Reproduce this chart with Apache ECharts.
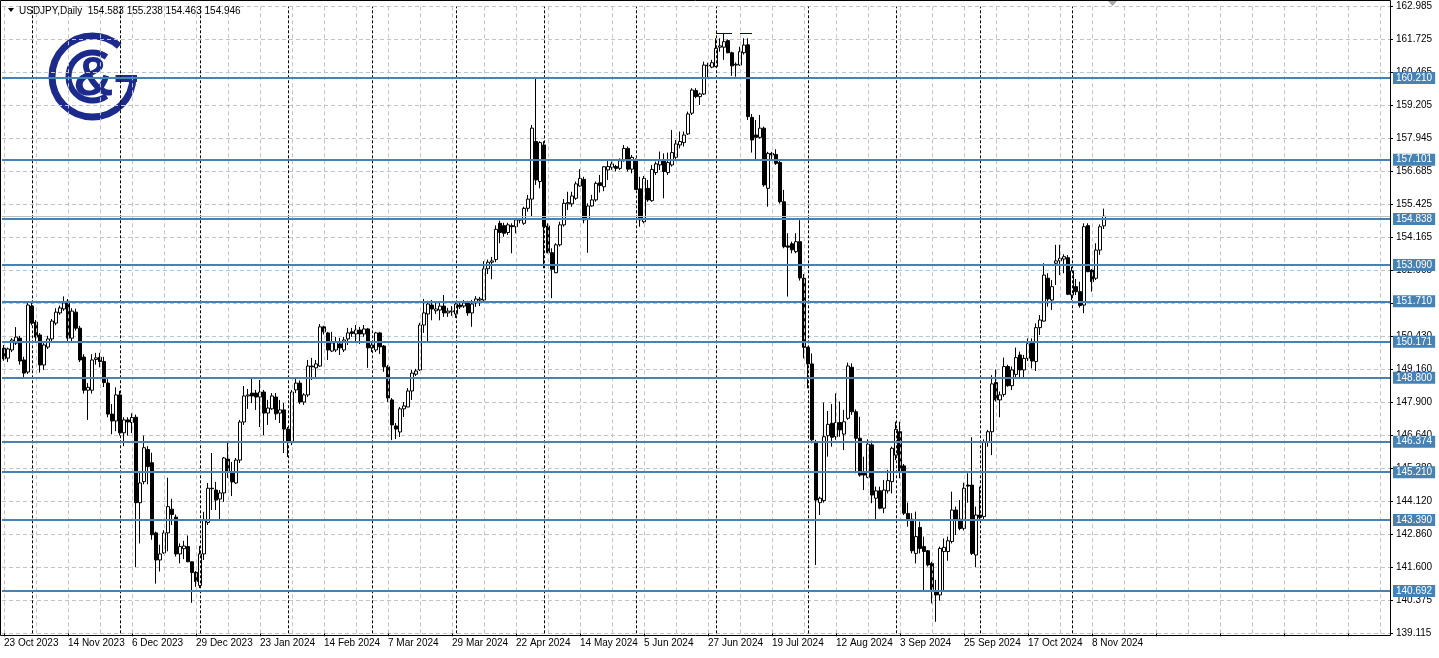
<!DOCTYPE html>
<html><head><meta charset="utf-8">
<script src="https://cdn.jsdelivr.net/npm/echarts@6.0.0/dist/echarts.min.js"></script>
<style>html,body{margin:0;padding:0;background:#fff;overflow:hidden}#c{width:1439px;height:658px}</style>
</head><body><div id="c"></div>
<script>
// ---------- DATA ----------
const symbolName = 'USDJPY,Daily';
const startDate = '2023-10-23';
const holidays = ['2023-12-25', '2024-01-01'];
const totalSlots = 347;

const opens = [149.93,149.55,149.86,150.12,150.31,149.48,149.02,151.53,150.92,150.43,149.29,149.97,150.28,150.88,151.27,151.42,151.72,150.31,151.30,150.69,149.59,148.33,148.33,149.50,149.58,149.42,148.60,147.42,147.16,148.15,146.71,147.20,147.10,147.30,144.05,144.85,146.07,145.57,142.90,141.87,142.14,142.90,143.80,143.50,142.10,142.30,142.38,141.80,141.40,140.90,142.10,143.30,144.60,144.53,144.19,144.42,145.71,145.22,144.80,145.67,147.12,148.11,148.22,148.22,148.07,148.26,147.46,147.62,148.07,147.46,147.58,146.85,146.36,148.34,148.60,147.88,148.15,149.25,149.18,149.25,150.74,150.51,149.82,149.86,150.09,149.86,150.28,150.55,150.47,150.62,150.47,150.66,149.94,149.86,150.51,150.01,149.22,147.96,146.97,146.74,147.62,147.69,148.30,148.94,149.10,150.81,151.23,151.57,151.35,151.38,151.53,151.27,151.31,151.23,151.57,151.53,151.65,151.27,151.65,151.76,151.76,152.95,153.20,153.30,154.68,154.59,154.33,154.59,154.55,154.80,154.68,155.25,155.60,157.79,156.27,157.66,154.58,153.56,152.80,153.86,154.62,155.42,155.42,155.63,156.10,156.35,154.84,155.34,155.57,156.22,156.07,156.71,156.81,156.84,156.77,157.06,157.53,156.74,157.09,155.99,154.74,156.01,155.54,156.61,156.90,157.06,156.61,156.90,157.19,157.66,157.75,158.08,158.87,159.73,159.50,159.60,160.70,160.62,160.64,161.38,161.38,161.63,161.17,160.70,160.70,161.17,161.47,158.71,158.04,157.95,158.30,156.01,157.34,157.30,156.99,155.50,153.82,153.90,153.60,153.98,152.59,149.96,149.33,146.37,144.05,144.13,146.60,147.07,146.56,147.10,146.66,147.26,149.20,147.51,146.50,145.19,145.01,146.25,144.22,144.50,143.84,144.50,144.85,145.86,146.75,145.45,143.64,143.42,142.12,143.11,142.38,142.22,141.74,140.70,140.54,142.19,142.19,142.57,143.77,143.42,143.07,144.72,144.72,142.06,143.58,143.52,146.37,146.75,148.62,147.96,148.17,149.23,148.50,148.93,149.67,149.10,149.54,150.18,149.42,150.71,150.96,152.59,151.76,153.16,153.25,153.32,153.37,151.95,152.27,152.08,151.57,154.59,152.90,152.59,153.66,154.583];
const highs = [150.05,149.95,150.31,150.73,150.40,149.60,151.65,151.72,151.00,150.50,150.20,150.40,151.04,151.45,151.55,151.90,151.80,151.45,151.43,150.78,149.70,148.60,149.70,149.75,149.75,149.60,148.75,147.80,148.44,148.30,147.30,147.30,147.45,147.40,145.20,146.60,146.20,145.95,142.95,142.45,143.00,145.00,144.20,143.60,142.50,142.60,142.80,141.80,141.45,142.40,143.70,144.80,145.94,144.84,144.53,145.79,146.36,145.60,145.75,147.20,148.49,148.38,148.79,148.34,148.72,148.34,147.96,148.22,148.22,147.96,147.84,146.93,148.34,148.83,148.70,148.22,149.48,149.56,149.48,150.85,150.78,150.55,150.55,150.36,150.32,150.36,150.70,150.70,150.81,150.74,150.81,150.70,150.17,150.55,150.55,150.05,149.29,148.03,147.08,147.69,147.88,148.41,149.10,149.14,150.89,151.80,151.73,151.76,151.65,151.65,151.95,151.46,151.53,151.65,151.65,151.76,151.73,151.76,151.91,151.88,153.24,153.30,153.40,154.60,154.78,154.70,154.70,154.68,154.87,154.85,155.31,155.76,158.42,160.20,157.80,157.80,154.68,153.73,153.92,154.74,155.60,155.88,155.88,156.27,156.74,156.45,155.44,155.76,156.27,156.52,156.86,157.12,157.03,156.90,157.15,157.66,157.60,157.28,157.15,156.45,156.48,156.33,156.90,157.03,157.41,157.34,157.37,158.23,157.85,158.17,158.17,158.93,159.82,159.82,159.65,160.83,160.79,160.90,161.72,161.72,161.91,161.68,161.21,160.80,161.40,161.72,161.72,158.84,158.61,158.80,158.36,157.40,157.40,157.50,157.09,155.95,154.30,153.98,154.30,154.80,152.75,149.99,149.73,146.44,144.28,147.86,147.54,147.80,148.21,147.90,147.58,149.38,149.35,147.60,147.32,145.80,146.46,146.41,144.66,144.66,144.91,145.30,146.18,147.13,147.13,145.52,144.05,143.65,143.71,143.33,142.76,142.25,141.80,141.11,142.38,142.69,142.76,144.47,143.90,144.15,144.81,145.17,146.54,143.90,144.66,146.46,146.82,148.90,149.12,148.28,149.57,149.30,149.23,149.95,149.80,149.67,150.30,150.30,150.87,151.19,153.16,152.78,152.52,153.86,153.86,153.50,153.47,153.03,152.56,152.46,154.68,154.68,152.94,153.92,154.64,155.238];
const lows = [149.45,149.40,149.78,150.05,149.30,148.80,148.95,150.80,150.20,149.00,149.10,149.90,150.20,150.80,151.20,151.35,150.15,150.20,150.60,149.40,148.20,147.20,148.20,149.30,149.20,148.45,147.30,146.65,146.77,146.60,146.20,146.60,146.70,141.60,142.50,144.75,144.75,142.64,140.97,141.43,142.10,142.20,143.20,142.00,141.74,141.90,141.80,140.24,140.85,140.80,141.87,143.20,143.77,143.77,143.39,144.08,144.99,144.30,144.76,145.56,147.01,147.62,147.84,147.58,146.93,146.62,147.01,147.58,147.20,147.08,145.94,145.79,146.24,148.22,147.80,147.77,148.07,148.72,148.83,149.22,150.45,149.48,149.78,149.78,149.67,149.78,150.05,150.36,150.17,150.09,150.36,149.18,149.78,149.78,149.71,149.03,147.88,146.43,146.47,146.55,147.31,147.69,147.96,148.87,149.06,150.51,150.20,150.99,151.23,150.99,151.12,151.12,151.16,151.08,151.42,151.46,151.16,150.74,151.50,151.53,151.70,152.75,152.55,153.20,153.92,154.17,154.24,153.54,154.30,154.68,154.62,155.12,154.93,156.14,156.01,152.97,153.54,151.83,152.78,153.80,154.55,155.19,155.31,155.57,156.07,154.68,153.56,155.31,155.50,155.85,155.90,156.33,156.71,156.65,156.71,157.03,156.65,156.58,155.95,154.55,154.68,155.50,155.50,156.52,156.71,155.63,156.52,156.84,157.12,157.53,157.60,158.04,158.80,159.44,159.18,159.56,160.20,160.58,160.62,161.21,160.90,161.15,160.29,160.26,160.67,161.10,158.61,157.37,157.11,157.90,156.07,155.31,157.09,156.90,155.43,153.73,151.89,153.54,153.54,152.50,149.54,148.40,146.31,141.68,143.58,144.05,145.80,146.18,146.44,146.56,146.05,147.20,147.39,145.17,145.04,144.53,144.98,144.03,143.39,143.80,143.65,144.40,144.40,145.67,144.98,143.58,143.14,142.12,141.74,142.12,140.67,141.62,140.22,139.52,140.32,140.66,141.84,142.50,142.82,143.00,142.99,144.05,142.06,141.60,143.39,143.39,146.18,145.86,147.90,147.30,148.08,148.46,148.34,148.81,148.81,148.81,149.44,149.16,149.06,150.43,150.94,151.51,151.38,152.33,152.71,152.78,151.95,151.76,151.95,151.47,151.26,152.82,152.08,152.52,153.48,154.463];
const closes = [149.52,149.90,150.24,150.35,149.44,148.98,151.57,150.88,150.35,149.29,150.05,150.28,150.96,151.30,151.46,151.65,150.31,151.34,150.69,149.48,148.33,148.44,149.48,149.56,149.42,148.62,147.42,147.16,148.15,146.71,147.20,147.12,147.29,144.05,144.80,146.14,145.42,142.83,141.87,142.10,142.90,143.90,143.60,142.10,142.38,142.40,141.80,141.39,141.05,142.10,143.37,144.60,144.58,144.15,144.42,145.75,145.22,144.84,145.67,147.12,148.11,148.15,148.11,148.07,148.26,147.46,147.65,148.11,147.43,147.58,146.85,146.36,148.26,148.60,147.88,148.15,149.25,149.22,149.33,150.74,150.55,149.86,150.13,150.17,149.94,150.24,150.51,150.49,150.62,150.47,150.66,149.94,150.05,150.51,149.98,149.22,148.03,147.01,146.85,147.62,147.73,148.30,148.98,149.06,150.81,151.27,151.61,151.42,151.42,151.53,151.27,151.34,151.35,151.61,151.50,151.65,151.27,151.61,151.80,151.80,152.95,153.20,153.25,154.45,154.33,154.30,154.62,154.55,154.81,154.82,155.25,155.60,158.30,156.33,157.75,154.55,153.56,152.93,153.86,154.62,155.44,155.47,155.72,156.18,156.39,154.81,155.34,155.57,156.20,156.12,156.83,156.84,156.94,156.77,157.06,157.53,156.74,157.19,155.97,154.81,156.39,155.57,156.73,156.94,157.06,156.65,156.99,157.37,157.70,157.79,158.04,158.84,159.75,159.50,159.60,160.70,160.67,160.79,161.34,161.43,161.59,161.17,160.67,160.73,161.21,161.46,158.74,157.85,157.95,158.30,156.14,157.34,157.28,156.96,155.50,153.79,153.77,153.67,153.98,152.60,149.96,149.33,146.44,144.15,144.22,146.56,147.03,146.54,147.10,146.82,147.13,149.25,147.51,146.50,145.10,145.10,146.28,144.34,144.50,143.84,144.53,144.89,146.12,146.84,145.25,143.65,143.39,142.22,142.76,142.31,142.19,141.68,140.75,140.54,142.31,142.35,142.60,143.77,143.39,143.07,144.60,144.68,142.12,143.58,143.49,146.37,146.75,148.57,147.96,148.15,149.23,148.50,149.10,149.57,149.10,149.54,150.10,149.44,150.71,151.00,152.71,151.80,152.27,153.25,153.35,153.41,151.98,152.87,152.08,151.55,154.55,152.84,152.46,153.66,154.55,154.946];

const levels = [160.210, 157.101, 154.838, 153.090, 151.710, 150.171, 148.800, 146.374, 145.210, 143.390, 140.692];
const bidPrice = 154.946;
const topMarks = [[178, 182, 161.91], [184, 187, 161.91]];
const priceTickLabels = ['162.985','161.725','160.465','159.205','157.945','156.685','155.425','154.165','152.905','151.645','150.430','149.160','147.900','146.640','145.380','144.120','142.860','141.600','140.375','139.115'];
const priceMin = 139.08, priceMax = 162.925, priceStep = 1.255;
const monthNames = ['Jan','Feb','Mar','Apr','May','Jun','Jul','Aug','Sep','Oct','Nov','Dec'];

// ---------- BUILD ----------
const dates = [];
{
  const p = startDate.split('-').map(Number);
  let t = Date.UTC(p[0], p[1] - 1, p[2]);
  while (dates.length < opens.length) {
    const d = new Date(t);
    const s = d.toISOString().slice(0, 10);
    const wd = d.getUTCDay();
    if (wd !== 0 && wd !== 6 && holidays.indexOf(s) < 0) dates.push(s);
    t += 86400000;
  }
}
const categories = dates.slice();
for (let i = dates.length; i < totalSlots; i++) categories.push('pad' + i);

const candleData = opens.map((o, i) => [o, closes[i], lows[i], highs[i]]);

function fmtDate(s) {
  if (!/^\d{4}-\d{2}-\d{2}$/.test(s)) return '';
  const a = s.split('-').map(Number);
  return a[2] + ' ' + monthNames[a[1] - 1] + ' ' + a[0];
}
function nearestStr(list, v, fmt) {
  let best = list[0], bd = Infinity;
  for (const s of list) { const d = Math.abs(parseFloat(s) - v); if (d < bd) { bd = d; best = s; } }
  return fmt ? fmt(best) : best;
}
function tickLabel(v) { return nearestStr(priceTickLabels, v); }
function levelLabel(p) { return nearestStr(levels, Number(p.value), x => Number(x).toFixed(3)); }

const gridLines = [];
for (let k = 0; k < totalSlots; k += 8) {
  gridLines.push({ xAxis: categories[k], lineStyle: { color: '#c4c4c4', type: [4, 3], width: 1 } });
}
for (let i = 1; i < dates.length; i++) {
  if (dates[i].slice(5, 7) !== dates[i - 1].slice(5, 7)) {
    gridLines.push({ xAxis: categories[i], lineStyle: { color: '#000', type: [3, 2], width: 1 } });
  }
}

const levelLines = levels.map(v => ({
  yAxis: v,
  lineStyle: { color: '#4682B4', width: 2, type: 'solid' },
  label: {
    show: true, position: 'end', distance: 3,
    formatter: levelLabel,
    color: '#fff', backgroundColor: '#4682B4', padding: [1, 3, 0, 3],
    fontSize: 10, fontFamily: 'Liberation Sans', lineHeight: 11
  }
}));
const bidLine = { yAxis: bidPrice, lineStyle: { color: '#c0c0c0', width: 1, type: 'solid' }, label: { show: false } };
const markSegs = topMarks.map(m => [
  { coord: [categories[m[0]], m[2]], lineStyle: { color: '#000080', width: 1, type: 'solid' }, label: { show: false } },
  { coord: [categories[m[1]], m[2]] }
]);

const last = opens.length - 1;
const headerText = symbolName + '  ' + opens[last].toFixed(3) + ' ' + highs[last].toFixed(3) + ' ' + lows[last].toFixed(3) + ' ' + closes[last].toFixed(3);

const navy = '#1c2a8c';
const lcx = 92.5, lcy = 76.5;

const option = {
  animation: false,
  backgroundColor: '#ffffff',
  grid: { left: 2, top: 6.6, width: 1388, height: 626.7, containLabel: false },
  xAxis: {
    type: 'category', data: categories, boundaryGap: true,
    axisLine: { show: false },
    axisTick: { show: true, interval: 15, alignWithLabel: true, length: 3, lineStyle: { color: '#000' } },
    axisLabel: { interval: 15, formatter: fmtDate, align: 'left', margin: 5, color: '#000', fontSize: 10, fontFamily: 'Liberation Sans' },
    splitLine: { show: false }
  },
  yAxis: {
    type: 'value', position: 'right', min: priceMin, max: priceMax, interval: priceStep,
    axisLine: { show: false },
    axisTick: { show: true, length: 3, lineStyle: { color: '#000' } },
    axisLabel: { margin: 6, formatter: tickLabel, color: '#000', fontSize: 10, fontFamily: 'Liberation Sans' },
    splitLine: { show: true, lineStyle: { color: '#c4c4c4', type: [4, 3], width: 1 } }
  },
  graphic: [
    { type: 'arc', z: 0, silent: true, shape: { cx: lcx, cy: lcy, r: 40.5, startAngle: 0, endAngle: Math.PI * 2 - 0.85, clockwise: true }, style: { stroke: navy, lineWidth: 7, fill: 'none' } },
    { type: 'line', z: 0, silent: true, shape: { x1: lcx + 23, y1: lcy + 2, x2: lcx + 44.5, y2: lcy + 2 }, style: { stroke: navy, lineWidth: 7 } },
    { type: 'arc', z: 0, silent: true, shape: { cx: lcx, cy: lcy, r: 24, startAngle: 0.95, endAngle: Math.PI * 2 - 0.95, clockwise: true }, style: { stroke: navy, lineWidth: 6, fill: 'none' } },
    { type: 'text', z: 0, silent: true, x: lcx + 1, y: lcy + 3, style: { text: '&', fill: navy, fontSize: 56, fontWeight: 'bold', fontFamily: 'Liberation Sans', align: 'center', verticalAlign: 'middle' } },
    { type: 'rect', z: 100, silent: true, shape: { x: 0.5, y: 0.5, width: 1390, height: 635 }, style: { fill: 'none', stroke: '#000', lineWidth: 1 } },
    { type: 'polygon', z: 100, silent: true, shape: { points: [[8, 8], [14, 8], [11, 12]] }, style: { fill: '#000' } },
    { type: 'text', z: 100, silent: true, x: 19, y: 11, style: { text: headerText, fill: '#000', fontSize: 10, fontFamily: 'Liberation Sans', align: 'left', verticalAlign: 'middle' } },
    { type: 'polygon', z: 100, silent: true, shape: { points: [[1108, 1], [1117, 1], [1112.5, 6]] }, style: { fill: '#a8a8a8' } }
  ],
  series: [
    {
      name: 'grid', type: 'line', data: [], z: 1, silent: true,
      markLine: { symbol: ['none', 'none'], silent: true, animation: false, label: { show: false }, data: gridLines }
    },
    {
      name: 'USDJPY', type: 'candlestick', data: candleData, z: 2, barWidth: 3, clip: false,
      itemStyle: { color: '#ffffff', color0: '#000000', borderColor: '#000000', borderColor0: '#000000', borderWidth: 1 }
    },
    {
      name: 'levels', type: 'line', data: [], z: 3, silent: true,
      markLine: { symbol: ['none', 'none'], silent: true, animation: false, data: [bidLine].concat(levelLines).concat(markSegs) }
    }
  ]
};

const chart = echarts.init(document.getElementById('c'), null, { renderer: 'canvas', width: 1439, height: 658 });
chart.setOption(option);
</script>
</body></html>
